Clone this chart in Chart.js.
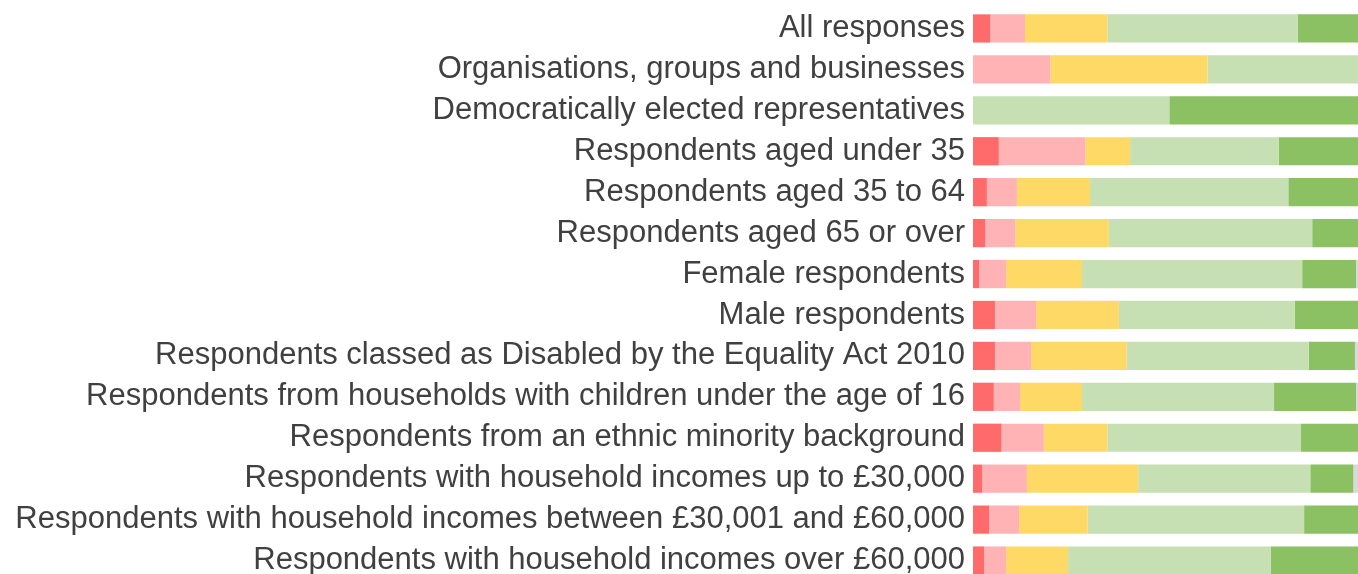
<!DOCTYPE html>
<html>
<head>
<meta charset="utf-8">
<script src="https://cdn.jsdelivr.net/npm/chart.js@4"></script>
<style>
  html, body { margin: 0; padding: 0; background: #fff; overflow: hidden; }
  #wrap { position: relative; width: 1358px; height: 581px; }
</style>
</head>
<body>
<div id="wrap"><canvas id="chart"></canvas></div>
<script>
// Groups (top to bottom)
const groups = [
  'All responses',
  'Organisations, groups and businesses',
  'Democratically elected representatives',
  'Respondents aged under 35',
  'Respondents aged 35 to 64',
  'Respondents aged 65 or over',
  'Female respondents',
  'Male respondents',
  'Respondents classed as Disabled by the Equality Act 2010',
  'Respondents from households with children under the age of 16',
  'Respondents from an ethnic minority background',
  'Respondents with household incomes up to £30,000',
  'Respondents with household incomes between £30,001 and £60,000',
  'Respondents with household incomes over £60,000',
];

// Share of responses (%) per answer
const stronglyDisagree = [4.5, 0, 0, 6.7, 3.6, 3.2, 1.6, 5.7, 5.7, 5.4, 7.4, 2.4, 4.2, 2.9];
const disagree         = [9.0, 20.1, 0, 22.5, 7.8, 7.8, 7.0, 10.7, 9.4, 6.8, 11.0, 11.6, 7.8, 5.7];
const neutral          = [21.4, 40.8, 0, 11.6, 19.0, 24.3, 19.7, 21.5, 24.8, 16.1, 16.5, 28.9, 17.8, 16.1];
const agree            = [49.5, 39.1, 51.0, 38.6, 51.5, 52.8, 57.2, 45.7, 47.3, 49.9, 50.3, 44.7, 56.2, 52.6];
const stronglyAgree    = [15.6, 0, 49.0, 20.6, 18.1, 11.9, 14.0, 16.4, 12.0, 21.3, 14.8, 11.2, 14.0, 22.7];
const dontKnow         = [0, 0, 0, 0, 0, 0, 0.5, 0, 0.8, 0.5, 0, 1.2, 0, 0];

const COLORS = {
  stronglyDisagree: '#FF6B6B',
  disagree:         '#FFB3B5',
  neutral:          '#FFD966',
  agree:            '#C6E0B4',
  stronglyAgree:    '#8BC162',
  dontKnow:         '#D9D9D9',
};

function makeDataset(label, data, color) {
  return { label, data, backgroundColor: color, borderWidth: 0, barPercentage: 0.69, categoryPercentage: 1 };
}

new Chart(document.getElementById('chart'), {
  type: 'bar',
  data: {
    labels: groups,
    datasets: [
      makeDataset('Strongly disagree', stronglyDisagree, COLORS.stronglyDisagree),
      makeDataset('Disagree',          disagree,         COLORS.disagree),
      makeDataset('Neutral',           neutral,          COLORS.neutral),
      makeDataset('Agree',             agree,            COLORS.agree),
      makeDataset('Strongly agree',    stronglyAgree,    COLORS.stronglyAgree),
      makeDataset("Don't know",        dontKnow,         COLORS.dontKnow),
    ],
  },
  options: {
    indexAxis: 'y',
    responsive: true,
    maintainAspectRatio: false,
    animation: false,
    layout: { padding: { top: 8, right: 0, bottom: 0, left: 0 } },
    plugins: { legend: { display: false }, tooltip: { enabled: false } },
    scales: {
      x: { stacked: true, min: 0, max: 100, display: false },
      y: {
        stacked: true,
        grid: { display: false, drawTicks: false },
        border: { display: false },
        ticks: {
          color: '#404040',
          padding: 8,
          font: { family: '"Liberation Sans", Arial, sans-serif', size: 31 },
        },
        afterFit: scale => {
          scale.width = 973;
          scale.paddingTop = 0;
          scale.paddingBottom = 0;
        },
      },
    },
  },
});
</script>
</body>
</html>
